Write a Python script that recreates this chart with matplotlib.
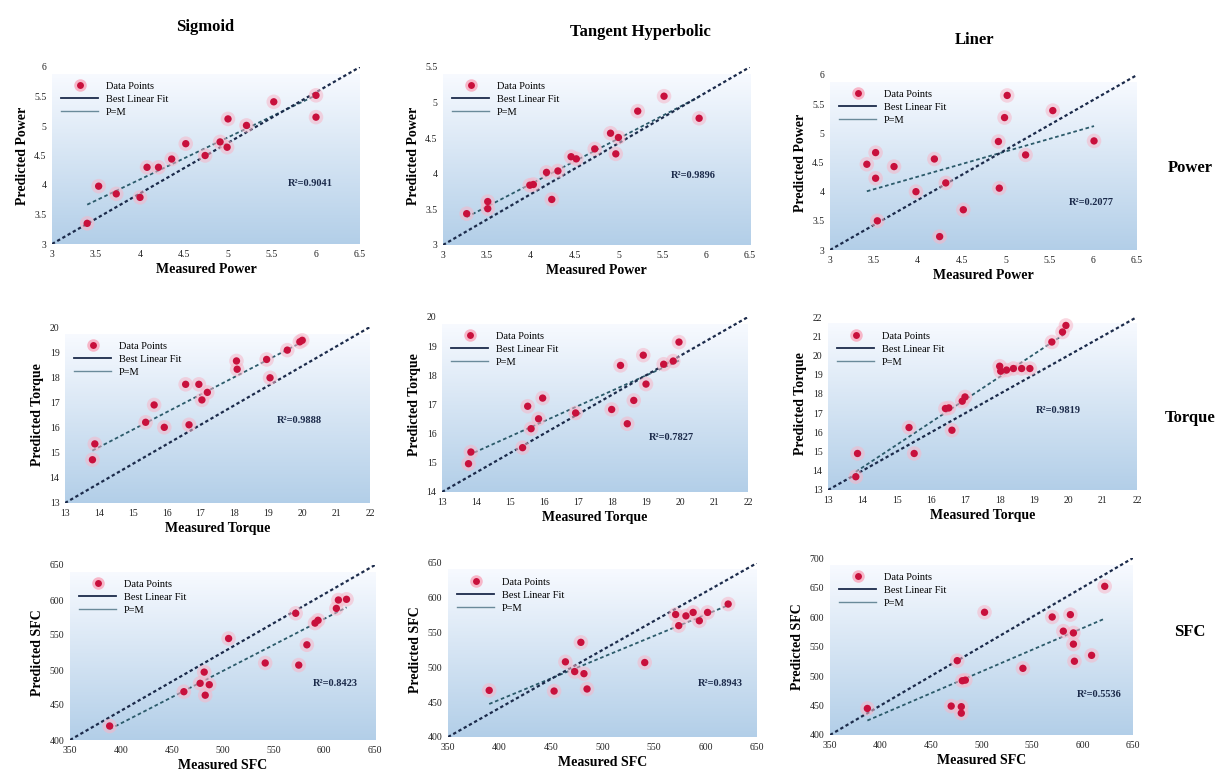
import numpy as np
import matplotlib
matplotlib.use("Agg")
import matplotlib.pyplot as plt
from matplotlib.lines import Line2D

plt.rcParams["font.family"] = ["Liberation Serif", "DejaVu Serif"]

# ---- data ----
# Power
sig_pow_x = [3.40, 3.53, 3.73, 4.00, 4.08, 4.21, 4.36, 4.52, 4.74, 4.91, 4.99, 5.00, 5.21, 5.52, 6.00, 6.00]
sig_pow_y = [3.35, 3.98, 3.85, 3.79, 4.30, 4.30, 4.44, 4.70, 4.50, 4.73, 4.64, 5.12, 5.01, 5.41, 5.52, 5.15]
tan_pow_x = [3.27, 3.51, 3.51, 3.99, 4.03, 4.18, 4.31, 4.24, 4.46, 4.52, 4.73, 4.91, 5.00, 4.97, 5.22, 5.52, 5.92]
tan_pow_y = [3.44, 3.61, 3.51, 3.84, 3.85, 4.02, 4.04, 3.64, 4.24, 4.21, 4.35, 4.57, 4.51, 4.28, 4.88, 5.09, 4.78]
lin_pow_x = [3.42, 3.52, 3.52, 3.73, 3.54, 3.98, 4.19, 4.32, 4.25, 4.52, 4.92, 4.93, 4.99, 5.02, 5.23, 5.54, 6.01]
lin_pow_y = [4.47, 4.67, 4.23, 4.43, 3.50, 4.00, 4.56, 4.15, 3.23, 3.69, 4.86, 4.06, 5.27, 5.65, 4.63, 5.39, 4.87]
# Torque
sig_tor_x = [13.81, 13.88, 15.38, 15.63, 15.93, 16.56, 16.66, 16.95, 17.04, 17.20, 18.06, 18.08, 18.95, 19.05, 19.56, 19.93, 20.00]
sig_tor_y = [14.72, 15.35, 16.21, 16.90, 16.01, 17.72, 16.11, 17.72, 17.10, 17.40, 18.65, 18.32, 18.71, 17.98, 19.08, 19.41, 19.47]
tan_tor_x = [13.78, 13.85, 15.37, 15.52, 15.62, 15.84, 15.96, 16.93, 17.99, 18.25, 18.45, 18.64, 18.92, 19.00, 19.52, 19.80, 19.97]
tan_tor_y = [14.97, 15.37, 15.52, 16.94, 16.17, 16.51, 17.22, 16.71, 16.83, 18.34, 16.34, 17.14, 18.69, 17.70, 18.38, 18.49, 19.14]
lin_tor_x = [13.81, 13.86, 15.36, 15.51, 16.42, 16.52, 16.61, 16.91, 16.99, 18.00, 18.03, 18.20, 18.40, 18.64, 18.88, 19.52, 19.83, 19.93]
lin_tor_y = [13.69, 14.90, 16.25, 14.90, 17.24, 17.27, 16.11, 17.62, 17.84, 19.44, 19.18, 19.24, 19.32, 19.32, 19.32, 20.70, 21.22, 21.56]
# SFC
sig_sfc_x = [389, 462, 478, 482, 483, 487, 506, 542, 572, 575, 583, 591, 594, 612, 614, 622]
sig_sfc_y = [420, 469, 481, 497, 464, 479, 545, 510, 581, 507, 536, 567, 571, 588, 600, 601]
tan_sfc_x = [390, 453, 464, 473, 479, 482, 485, 541, 571, 574, 581, 588, 594, 602, 622]
tan_sfc_y = [467, 466, 508, 494, 536, 491, 469, 507, 576, 560, 574, 579, 567, 579, 591]
lin_sfc_x = [387, 470, 476, 480, 480, 481, 484, 503, 541, 570, 581, 588, 591, 591, 592, 609, 622]
lin_sfc_y = [445, 449, 526, 448, 437, 492, 493, 608, 513, 600, 576, 604, 573, 554, 525, 535, 652]

col_titles = ["Sigmoid", "Tangent Hyperbolic", "Liner"]
row_titles = ["Power", "Torque", "SFC"]
r2_text = [["R\u00b2=0.9041", "R\u00b2=0.9896", "R\u00b2=0.2077"],
           ["R\u00b2=0.9888", "R\u00b2=0.7827", "R\u00b2=0.9819"],
           ["R\u00b2=0.8423", "R\u00b2=0.8943", "R\u00b2=0.5536"]]
third_label = [["P=M", "P=M", "P=M"],
               ["P=M", "P=M", "P=M"],
               ["P=M", "P=M", "P=M"]]

panels = [
    [(sig_pow_x, sig_pow_y, (3, 6.5, 0.5), (3, 6, 0.5)),
     (tan_pow_x, tan_pow_y, (3, 6.5, 0.5), (3, 5.5, 0.5)),
     (lin_pow_x, lin_pow_y, (3, 6.5, 0.5), (3, 6, 0.5))],
    [(sig_tor_x, sig_tor_y, (13, 22, 1), (13, 20, 1)),
     (tan_tor_x, tan_tor_y, (13, 22, 1), (14, 20, 1)),
     (lin_tor_x, lin_tor_y, (13, 22, 1), (13, 22, 1))],
    [(sig_sfc_x, sig_sfc_y, (350, 650, 50), (400, 650, 50)),
     (tan_sfc_x, tan_sfc_y, (350, 650, 50), (400, 650, 50)),
     (lin_sfc_x, lin_sfc_y, (350, 650, 50), (400, 700, 50))],
]

# pixel boxes (left, top, right, bottom) of each plot
boxes = [
    [(52, 67, 360, 244), (443, 67, 750, 245), (830, 75, 1137, 250)],
    [(65, 327, 370, 503), (442, 317, 748, 492), (828, 317, 1137, 490)],
    [(70, 565, 375, 740), (448, 563, 757, 737), (830, 558, 1133, 735)],
]
r2_pos = [[(0.84, 0.34), (0.815, 0.39), (0.85, 0.27)],
          [(0.77, 0.47), (0.75, 0.31), (0.745, 0.46)],
          [(0.87, 0.32), (0.88, 0.31), (0.89, 0.23)]]

W, H = 1221, 771
fig = plt.figure(figsize=(W / 100, H / 100), dpi=100)

grad = np.linspace(0, 1, 256).reshape(-1, 1)
top_c = np.array([0.97, 0.98, 1.0])
bot_c = np.array([0.70, 0.81, 0.91])
img = top_c + (bot_c - top_c) * grad[:, :, None] * np.ones((1, 2, 1))

for r in range(3):
    for c in range(3):
        xs, ys, xr, yr = panels[r][c]
        l, t, rr, b = boxes[r][c]
        ax = fig.add_axes([l / W, 1 - b / H, (rr - l) / W, (b - t) / H])
        x0, x1 = xr[0], xr[1]
        y0, y1 = yr[0], yr[1]
        ax.imshow(img, extent=(x0, x1, y0, y1 - (y1 - y0) * 0.04), aspect="auto", zorder=0)
        xs = np.array(xs, float)
        ys = np.array(ys, float)
        k, m = np.polyfit(xs, ys, 1)
        fx = np.array([xs.min(), xs.max()])
        ax.plot(fx, k * fx + m, ls=(0, (2, 1.5)), color="#2b5a6a", lw=1.3, zorder=2)
        ax.plot([x0, x1], [y0, y1], ls=(0, (1.5, 1.2)), color="#1b2a4a", lw=1.6, zorder=2)
        ax.scatter(xs, ys, s=110, color="#f7b6c8", alpha=0.55, edgecolors="none", zorder=3)
        ax.scatter(xs, ys, s=28, color="#c8103c", edgecolors="none", zorder=4)
        ax.set_xlim(x0, x1)
        ax.set_ylim(y0, y1)
        ax.set_xticks(np.arange(x0, x1 + xr[2] / 2, xr[2]))
        ax.set_yticks(np.arange(y0, y1 + yr[2] / 2, yr[2]))
        ax.xaxis.set_major_formatter(plt.FuncFormatter(lambda v, p: f"{v:g}"))
        ax.yaxis.set_major_formatter(plt.FuncFormatter(lambda v, p: f"{v:g}"))
        ax.tick_params(length=0, labelsize=7, pad=4, colors="#222222")
        for s in ax.spines.values():
            s.set_visible(False)
        ax.set_xlabel("Measured " + row_titles[r], fontsize=10, fontweight="bold", labelpad=3)
        ax.set_ylabel("Predicted " + row_titles[r], fontsize=10, fontweight="bold", labelpad=4)
        handles = [
            Line2D([], [], marker="o", ls="none", color="#c8103c", markersize=7,
                   markeredgecolor="#f7b6c8", markeredgewidth=2),
            Line2D([], [], color="#1b2a4a", lw=1.3),
            Line2D([], [], color="#6a8a9a", lw=1.0),
        ]
        ax.legend(handles, ["Data Points", "Best Linear Fit", third_label[r][c]],
                  loc="upper left", frameon=False, fontsize=7.5, handlelength=3.5,
                  labelspacing=0.35, borderaxespad=0.5, bbox_to_anchor=(0.0, 0.97))
        ax.text(r2_pos[r][c][0], r2_pos[r][c][1], r2_text[r][c], transform=ax.transAxes,
                ha="center", va="center", fontsize=7.5, fontweight="bold", color="#1b2a4a")

for c, (title, x, y) in enumerate(zip(col_titles, [205, 640, 975], [27, 32, 40])):
    fig.text(x / W, 1 - y / H, title, ha="center", va="center", fontsize=12, fontweight="bold")
for r, (name, y) in enumerate(zip(row_titles, [168, 418, 632])):
    fig.text(1190 / W, 1 - y / H, name, ha="center", va="center", fontsize=12, fontweight="bold")

fig.savefig("out.png", dpi=100)
